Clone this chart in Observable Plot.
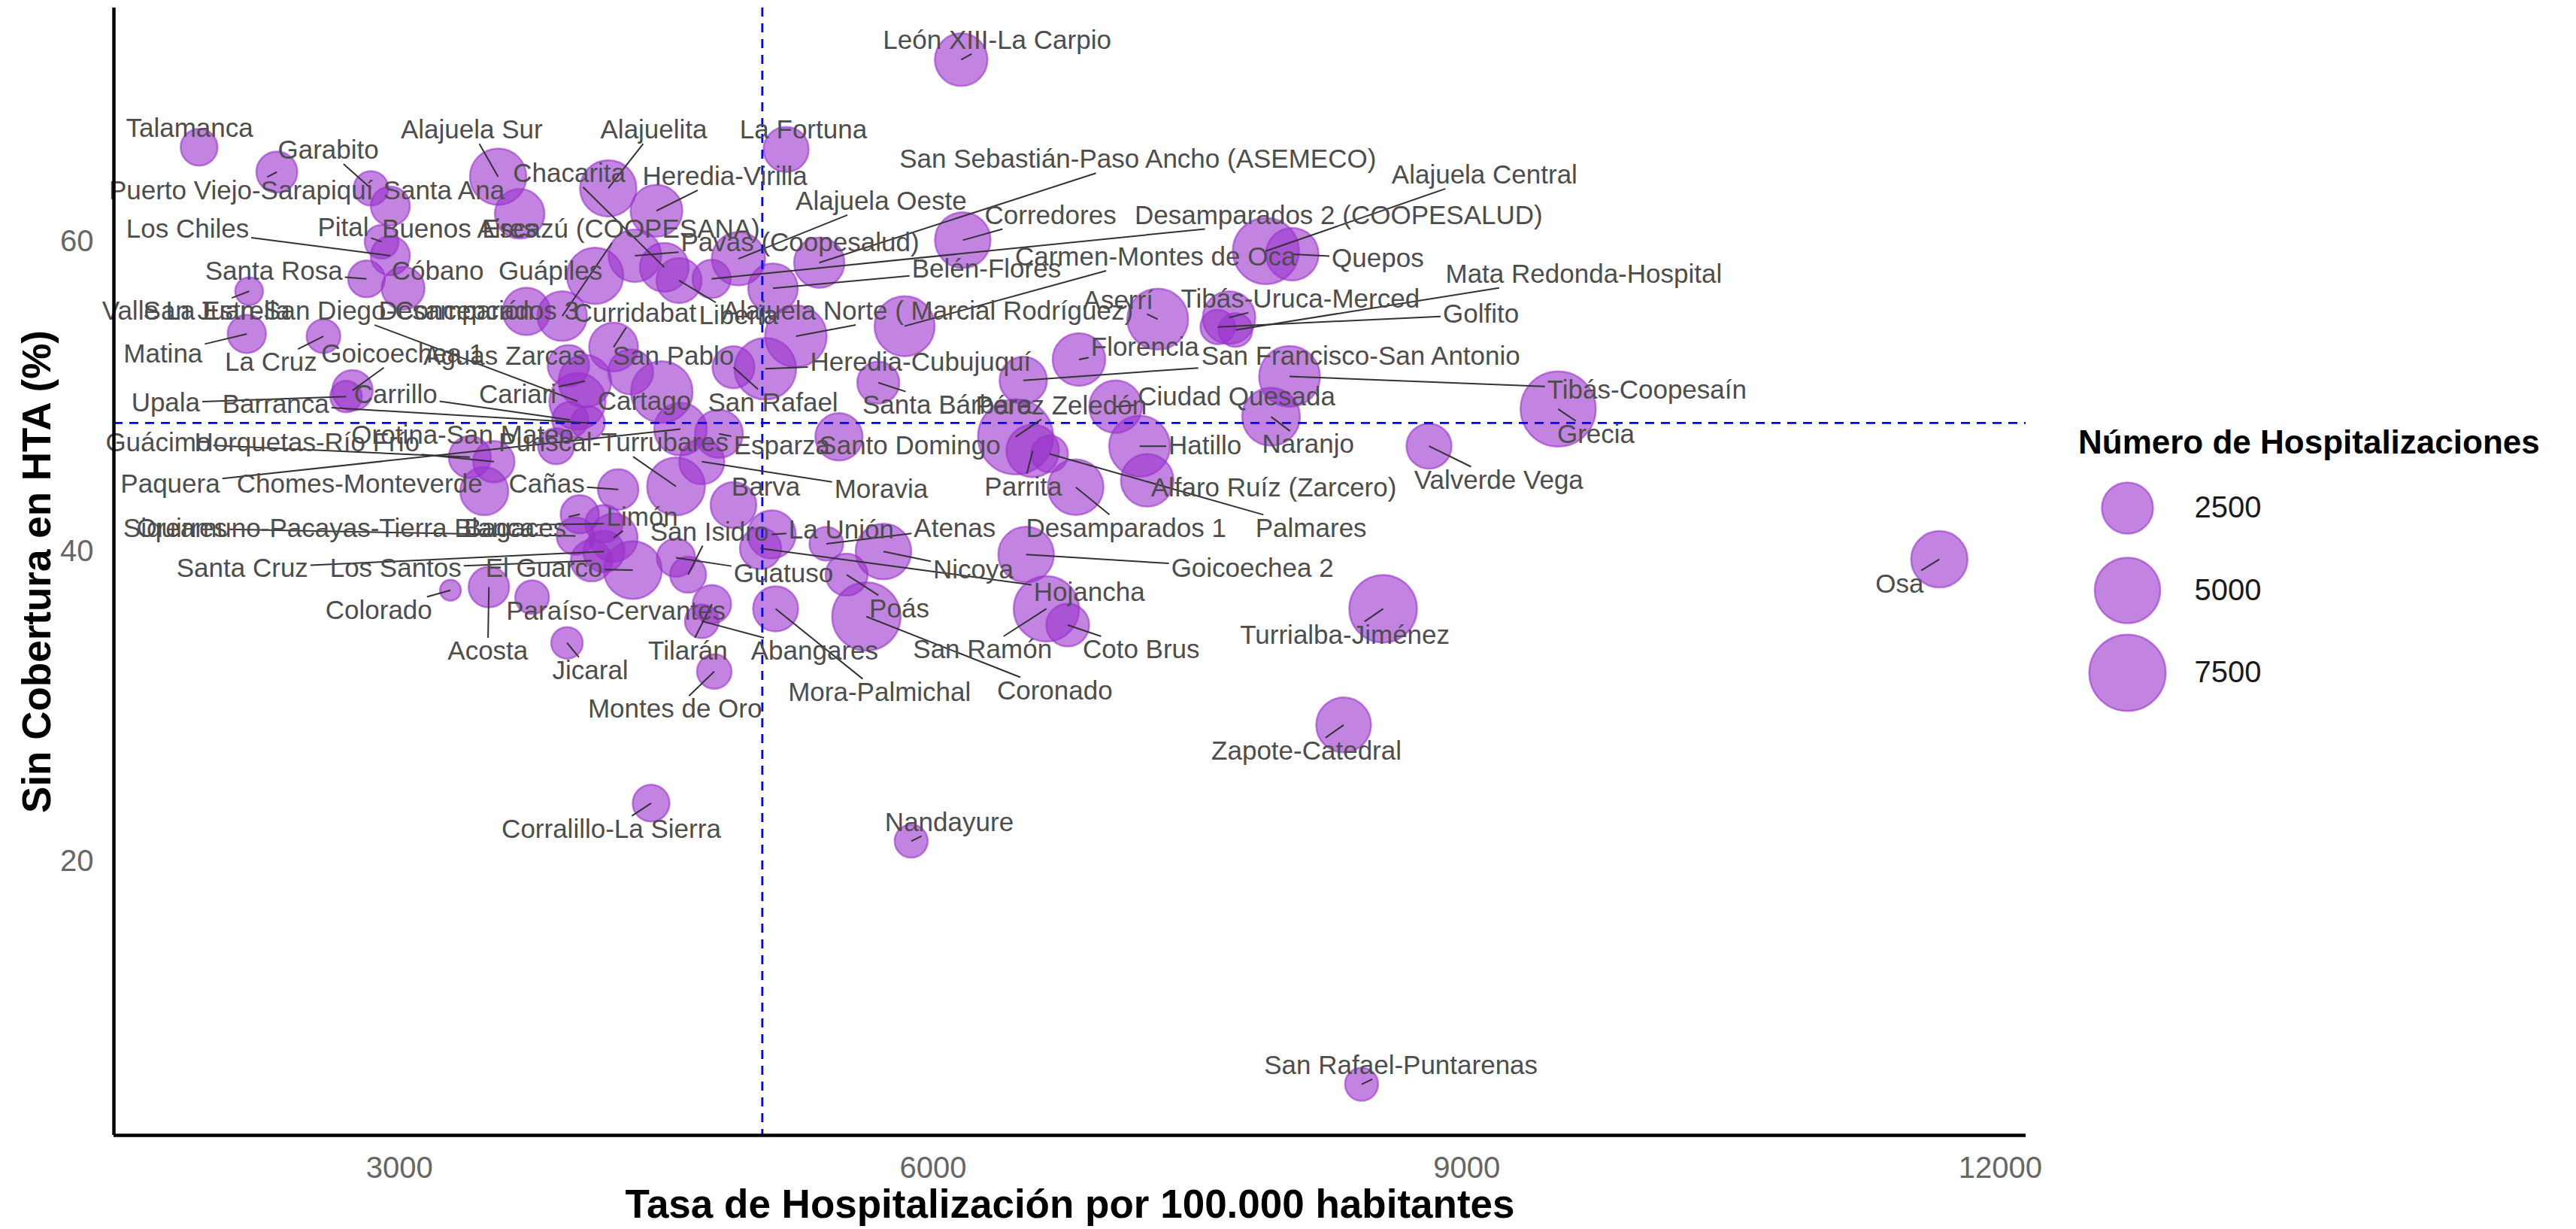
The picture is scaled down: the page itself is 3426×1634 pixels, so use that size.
<!DOCTYPE html>
<html><head><meta charset="utf-8">
<script src="https://cdn.jsdelivr.net/npm/d3@7"></script>
<script src="https://cdn.jsdelivr.net/npm/@observablehq/plot@0.6"></script>
<style>
html,body{margin:0;padding:0;background:#fff;}
#wrap{position:relative;width:3426px;height:1634px;overflow:hidden;font-family:"Liberation Sans",Arial,sans-serif;background:#fff;}
#main{position:absolute;left:0;top:0;}
#legend-title{position:absolute;left:2764px;top:566px;font-size:44px;line-height:44px;font-weight:bold;color:#000;white-space:nowrap;}
#legend{position:absolute;left:2740px;top:540px;}
</style></head>
<body><div id="wrap"><div id="main"></div><div id="legend-title">Número de Hospitalizaciones</div><div id="legend"></div></div>
<script>
// ---- Data ----
const names = ["Talamanca","Puerto Viejo-Sarapiquí","Garabito","Santa Ana","Alajuela Sur","Alajuelita","La Fortuna","León XIII-La Carpio","Chacarita","Heredia-Virilla",
"San Sebastián-Paso Ancho (ASEMECO)","Alajuela Central","Quepos","Corredores","Desamparados 2 (COOPESALUD)","Pavas (Coopesalud)","Belén-Flores","Alajuela Oeste","Carmen-Montes de Oca","Liberia",
"Guápiles","Buenos Aires","Pital","Escazú (COOPESANA)","Los Chiles","Santa Rosa","Cóbano","Valle La Estrella","San Juan-San Diego-Concepción","Desamparados 3",
"Curridabat","San Pablo","Aguas Zarcas","Cariari","Cartago","San Rafael","Barranca","Upala","Carrillo","Matina",
"La Cruz","Goicoechea 1","Mata Redonda-Hospital","Aserrí","Tibás-Uruca-Merced","Golfito","Florencia","San Francisco-San Antonio","Tibás-Coopesaín","Grecia",
"Ciudad Quesada","Naranjo","Hatillo","Alfaro Ruíz (Zarcero)","Palmares","Parrita","Pérez Zeledón","Desamparados 1","Santo Domingo","Santa Bárbara",
"Heredia-Cubujuquí","Alajuela Norte ( Marcial Rodríguez)","Valverde Vega","Osa","Guácimo","Horquetas-Río Frío","Orotina-San Mateo","Puriscal-Turrubares","Esparza","Paquera",
"Chomes-Monteverde","Cañas","Barva","Moravia","Siquirres","Oreamuno-Pacayas-Tierra Blanca","Bagaces","Limón","San Isidro","La Unión",
"Atenas","Santa Cruz","Los Santos","El Guarco","Guatuso","Nicoya","Goicoechea 2","Hojancha","Colorado","Paraíso-Cervantes",
"Poás","Turrialba-Jiménez","Acosta","Jicaral","Tilarán","Abangares","San Ramón","Coto Brus","Montes de Oro","Mora-Palmichal",
"Coronado","Zapote-Catedral","Nandayure","Corralillo-La Sierra","San Rafael-Puntarenas"];

// Tasa de Hospitalización por 100.000 habitantes
const tasa = [1874,2311,2840,2949,3555,4174,5174,6158,4489,4445,
5360,7871,8019,6167,4755,4324,5100,4906,5840,4572,
4100,3676,2900,3915,2949,2815,3021,2155,4001,3714,
4204,4300,3950,4043,4475,4878,4060,2700,3960,2142,
2573,2736,7700,7263,7664,7600,6820,6507,8004,9514,
7026,7900,7161,7204,6655,6560,6464,6802,5471,5692,
5057,5229,8788,11657,3396,3531,3881,4555,4796,4580,
3477,4230,4878,4700,3990,4150,4014,4204,4623,5093,
5400,4150,4080,4312,4555,5721,6523,5030,3287,3746,
5514,8530,3503,3942,4757,4700,6637,6757,4770,5115,
5625,8308,5877,4415,8409];

// Sin Cobertura en HTA (%)
const sinCobertura = [66.1,64.5,63.45,62.3,64.2,63.45,65.96,71.76,58.35,62.0,
58.65,59.4,59.2,60.1,57.6,59.1,57.0,58.9,54.55,57.5,
57.8,61.8,60.0,55.2,59.1,57.6,57.0,56.8,49.7,55.5,
53.2,51.6,52.0,51.0,50.3,51.9,48.3,50.0,48.5,54.05,
53.9,50.4,54.3,55.0,55.1,54.5,52.4,51.05,51.3,49.2,
49.35,48.7,46.8,44.6,46.3,46.5,47.4,44.15,47.4,50.9,
51.8,53.9,46.8,39.5,46.1,45.8,46.8,44.2,47.6,47.9,
43.9,44.0,43.0,45.8,41.0,41.8,42.4,40.9,38.5,41.1,
40.5,40.0,39.4,38.8,39.6,40.0,39.8,40.2,37.5,37.05,
38.5,36.3,37.7,34.1,36.6,35.5,36.3,35.25,32.25,36.3,
35.8,28.8,21.3,23.75,5.6];

// Número de Hospitalizaciones
const hospitalizaciones = [916,1282,748,1107,3310,3310,1724,2719,2190,2608,
2394,5137,2719,3187,1041,2719,2291,2832,3963,1724,
3310,2291,698,2291,1107,916,1474,380,3310,1996,
2190,1724,1320,2719,4242,1395,698,560,858,1041,
698,1246,698,4101,2719,749,2719,1996,4101,7197,
2719,3564,4101,2719,916,2719,7197,3187,1996,1395,
4242,4242,1724,3310,1395,1320,858,3564,2092,2719,
2092,1246,1812,1724,977,977,1041,2092,858,2092,
698,1320,1320,3564,1041,3187,3187,1320,210,698,
1395,5456,1246,560,1041,698,4982,1474,748,1724,
5619,3066,649,916,649];

// Repelled label anchors (data units, as placed in the reference)
const labelX = [1820,2110,2600,3250,3406,4430,5271,6360,3955,4830,
7151,9100,8500,6660,8280,5252,6300,5708,7250,4906,
3849,3338,2684,4246,1809,2294,3215,1857,2658,3446,
4324,4540,3591,3665,4377,5100,2305,1686,2979,1671,
2278,3017,9658,7041,8064,9080,7191,8404,10013,9726,
7706,8108,7529,7915,8125,6507,6720,7085,5869,6080,
5930,5970,9180,11433,1644,2480,3355,4204,5150,1712,
2776,3828,5060,5708,1739,2641,3651,4365,4743,5484,
6122,2117,2979,3813,5159,6226,7795,6878,2884,4217,
5810,8315,3497,4073,4622,5334,6278,7170,4549,5699,
6684,8099,6091,4191,8630];
const labelY = [67.3,63.3,65.9,63.3,67.2,67.2,67.2,73.0,64.4,64.2,
65.3,64.3,58.9,61.7,61.7,59.95,58.25,62.6,59.0,55.2,
58.1,60.8,60.9,60.8,60.8,58.1,58.1,55.5,55.5,55.5,
55.35,52.6,52.6,50.1,49.7,49.6,49.5,49.6,50.1,52.75,
52.2,52.75,57.9,56.2,56.3,55.3,53.2,52.6,50.4,47.55,
50.0,46.9,46.8,44.1,41.5,44.15,49.4,41.5,46.8,49.45,
52.2,55.5,44.6,37.9,47.0,47.0,47.5,47.0,46.8,44.35,
44.35,44.35,44.15,44.0,41.5,41.5,41.5,42.2,41.25,41.4,
41.5,38.9,38.9,38.9,38.55,38.8,38.9,37.35,36.2,36.15,
36.3,34.6,33.55,32.3,33.55,33.55,33.65,33.65,29.8,30.9,
31.0,27.1,22.5,22.05,6.8];

const xTicks = [3000, 6000, 9000, 12000];
const yTicks = [20, 40, 60];
const legendValues = [2500, 5000, 7500];
const refX = 5040;   // vertical dashed reference
const refY = 48.3;   // horizontal dashed reference

// ---- Layout / scales ----
const W = 3426, H = 1634, ML = 151, MR = 732, MT = 10, MB = 125;
const X_DOMAIN = [1395, 12144], Y_DOMAIN = [2.3, 75.1];
const R_BASE = 200;
const R_SCALE = {type: "sqrt", domain: [0, 7300], range: [12.5, 50.8]};
const PURPLE = "#9932CC";
const FONT = '"Liberation Sans", Arial, sans-serif';
const LABEL_SIZE = 35;

const rows = names.map((name, i) => ({
  name, x: tasa[i], y: sinCobertura[i], hosp: hospitalizaciones[i], lx: labelX[i], ly: labelY[i]
}));

// segment from label box edge to point (ggrepel style)
const sx = d3.scaleLinear(X_DOMAIN, [ML, W - MR]);
const sy = d3.scaleLinear(Y_DOMAIN, [H - MB, MT]);
const ctx = document.createElement("canvas").getContext("2d");
ctx.font = LABEL_SIZE + 'px "Liberation Sans"';
const segs = [];
rows.forEach(d => {
  const hw = ctx.measureText(d.name).width / 2 + 3, hh = 18;
  const px = sx(d.x), py = sy(d.y), lx = sx(d.lx), ly = sy(d.ly);
  const dx = px - lx, dy = py - ly;
  if (Math.abs(dx) <= hw && Math.abs(dy) <= hh) return;
  const t = Math.min(dx ? hw / Math.abs(dx) : Infinity, dy ? hh / Math.abs(dy) : Infinity);
  const ex = lx + t * dx, ey = ly + t * dy;
  if (Math.hypot(px - ex, py - ey) < 12) return;
  segs.push({x1: sx.invert(ex), y1: sy.invert(ey), x2: d.x, y2: d.y});
});

const chart = Plot.plot({
  width: W, height: H,
  marginLeft: ML, marginRight: MR, marginTop: MT, marginBottom: MB,
  style: {fontFamily: FONT, background: "#fff", color: "#666", overflow: "visible"},
  x: {domain: X_DOMAIN},
  y: {domain: Y_DOMAIN},
  r: R_SCALE,
  marks: [
    Plot.dot(rows, {x: "x", y: "y", r: d => d.hosp - R_BASE, fill: PURPLE, fillOpacity: 0.6,
      stroke: PURPLE, strokeOpacity: 0.6, strokeWidth: 2.5, sort: null}),
    Plot.ruleX([refX], {stroke: "#0000FF", strokeWidth: 2.8, strokeDasharray: "12,9"}),
    Plot.ruleY([refY], {stroke: "#0000FF", strokeWidth: 2.8, strokeDasharray: "12,9"}),
    Plot.link(segs, {x1: "x1", y1: "y1", x2: "x2", y2: "y2", stroke: "#333", strokeWidth: 2}),
    Plot.text(rows, {x: "lx", y: "ly", text: "name", fontSize: LABEL_SIZE, fill: "#4d4d4d"}),
    Plot.ruleX([X_DOMAIN[0]], {stroke: "#000", strokeWidth: 4.5}),
    Plot.ruleY([Y_DOMAIN[0]], {stroke: "#000", strokeWidth: 4.5}),
    Plot.axisX({ticks: xTicks, tickSize: 0, tickPadding: 28, fontSize: 40, tickFormat: d => String(d), label: null}),
    Plot.axisY({ticks: yTicks, tickSize: 0, tickPadding: 27, fontSize: 40, tickFormat: d => String(d), label: null}),
    Plot.text(["Tasa de Hospitalización por 100.000 habitantes"], {frameAnchor: "bottom", dy: 93, text: d => d,
      textAnchor: "middle", lineAnchor: "middle", fontSize: 53, fontWeight: "bold", fill: "#000"}),
    Plot.text(["Sin Cobertura en HTA (%)"], {frameAnchor: "left", dx: -101, rotate: -90, text: d => d,
      textAnchor: "middle", lineAnchor: "middle", fontSize: 53, fontWeight: "bold", fill: "#000"})
  ]
});
document.getElementById("main").appendChild(chart);

const legend = Plot.plot({
  width: 680, height: 420, margin: 0,
  style: {fontFamily: FONT, background: "transparent", overflow: "visible"},
  x: {domain: [0, 1], range: [89, 178], axis: null},
  y: {domain: [2500, 7500], range: [135, 354], axis: null},
  r: R_SCALE,
  marks: [
    Plot.dot(legendValues, {x: () => 0, y: d => d, r: d => d - R_BASE, fill: PURPLE, fillOpacity: 0.6,
      stroke: PURPLE, strokeOpacity: 0.6, strokeWidth: 2.5, sort: null}),
    Plot.text(legendValues, {x: () => 1, y: d => d, text: d => String(d), textAnchor: "start",
      fontSize: 40, fill: "#1a1a1a"})
  ]
});
document.getElementById("legend").appendChild(legend);
</script>
</body></html>
